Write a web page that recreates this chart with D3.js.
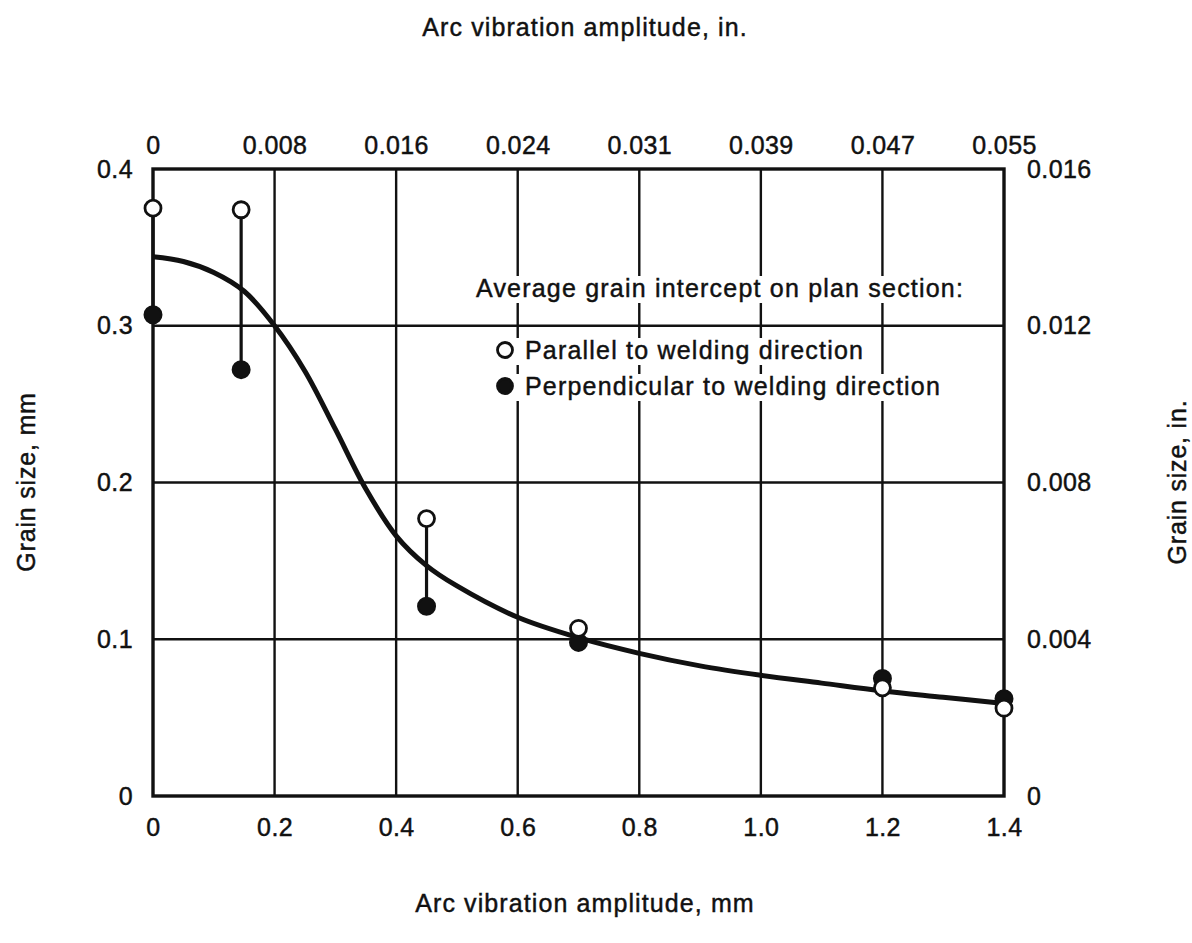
<!DOCTYPE html>
<html>
<head>
<meta charset="utf-8">
<script src="https://cdn.jsdelivr.net/npm/d3@7"></script>
<style>
  html, body { margin: 0; padding: 0; background: #fff; }
  svg text { font-family: "Liberation Sans", Arial, Helvetica, sans-serif; fill: #111; stroke: #111; stroke-width: 0.45px; }
</style>
</head>
<body>
<svg id="chart" width="1192" height="943"></svg>
<script>
// ---------- data ----------
const xTicksMm = [0, 0.2, 0.4, 0.6, 0.8, 1.0, 1.2, 1.4];
const xTickLabelsMm = ["0", "0.2", "0.4", "0.6", "0.8", "1.0", "1.2", "1.4"];
const xTickLabelsIn = ["0", "0.008", "0.016", "0.024", "0.031", "0.039", "0.047", "0.055"];
const yTicksMm = [0, 0.1, 0.2, 0.3, 0.4];
const yTickLabelsMm = ["0", "0.1", "0.2", "0.3", "0.4"];
const yTickLabelsIn = ["0", "0.004", "0.008", "0.012", "0.016"];

const amplitudeMm = [0, 0.145, 0.45, 0.7, 1.2, 1.4];
const parallelGrain = [0.375, 0.374, 0.177, 0.107, 0.069, 0.056];
const perpendicularGrain = [0.307, 0.272, 0.121, 0.098, 0.075, 0.062];

const curveX = [0, 0.05, 0.1, 0.15, 0.2, 0.25, 0.3, 0.35, 0.4, 0.45, 0.5, 0.6, 0.7, 0.8, 0.9, 1.0, 1.1, 1.2, 1.3, 1.4];
const curveY = [0.344, 0.341, 0.334, 0.322, 0.300, 0.271, 0.234, 0.196, 0.166, 0.147, 0.134, 0.114, 0.101, 0.091, 0.083, 0.077, 0.072, 0.067, 0.063, 0.059];

const legendTitle = "Average grain intercept on plan section:";
const legendLabels = ["Parallel to welding direction", "Perpendicular to welding direction"];

// ---------- layout ----------
const L = 153, R = 1004, T = 169, B = 796;
const svg = d3.select("#chart");

const x = d3.scaleLinear().domain([0, 1.4]).range([L, R]);
const y = d3.scaleLinear().domain([0, 0.4]).range([B, T]);

// grid
const grid = svg.append("g");
grid.selectAll("line.v").data(xTicksMm.slice(1, -1)).join("line")
  .attr("x1", d => x(d)).attr("x2", d => x(d)).attr("y1", T).attr("y2", B)
  .attr("stroke", "#111").attr("stroke-width", 2.4);
grid.selectAll("line.h").data(yTicksMm.slice(1, -1)).join("line")
  .attr("y1", d => y(d)).attr("y2", d => y(d)).attr("x1", L).attr("x2", R)
  .attr("stroke", "#111").attr("stroke-width", 2.4);

// axes (labels only; frame drawn separately)
function styleAxis(g, fs, ls) {
  g.select(".domain").remove();
  g.selectAll(".tick line").remove();
  g.selectAll("text").style("font-size", fs + "px").style("letter-spacing", ls + "px").attr("fill", "#111");
}
svg.append("g").attr("transform", `translate(0,${B})`)
  .call(d3.axisBottom(x).tickValues(xTicksMm).tickFormat((d, i) => xTickLabelsMm[i]).tickPadding(16))
  .call(g => styleAxis(g, 25, 0.4));
svg.append("g").attr("transform", `translate(0,${T})`)
  .call(d3.axisTop(x).tickValues(xTicksMm).tickFormat((d, i) => xTickLabelsIn[i]).tickPadding(9))
  .call(g => styleAxis(g, 25, 0.4));
svg.append("g").attr("transform", `translate(${L},0)`)
  .call(d3.axisLeft(y).tickValues(yTicksMm).tickFormat((d, i) => yTickLabelsMm[i]).tickPadding(14))
  .call(g => styleAxis(g, 25, 0.4));
svg.append("g").attr("transform", `translate(${R},0)`)
  .call(d3.axisRight(y).tickValues(yTicksMm).tickFormat((d, i) => yTickLabelsIn[i]).tickPadding(17))
  .call(g => styleAxis(g, 25, 0.4));

// legend (white backgrounds interrupt the grid)
const leg = svg.append("g");
function legendRow(tx, ty, text, marker) {
  const g = leg.append("g");
  const bg = g.append("rect").attr("fill", "#fff").style("stroke", "none");
  g.append("text").attr("x", tx).attr("y", ty)
    .style("font-size", "25px").style("letter-spacing", "1.2px").text(text);
  if (marker) {
    g.append("circle").attr("cx", tx - 20).attr("cy", ty - 9).attr("r", 7.5)
      .attr("fill", marker === "open" ? "#fff" : "#111")
      .attr("stroke", "#111").attr("stroke-width", 2.8);
  }
  const bb = g.node().getBBox();
  bg.attr("x", bb.x - 4).attr("y", ty - 21).attr("width", bb.width + 8).attr("height", 27);
}
legendRow(476, 297, legendTitle, null);
legendRow(525, 359, legendLabels[0], "open");
legendRow(525, 395, legendLabels[1], "filled");

// frame
svg.append("rect").attr("x", L).attr("y", T).attr("width", R - L).attr("height", B - T)
  .attr("fill", "none").attr("stroke", "#111").attr("stroke-width", 3.4);

// error bars connecting the two measurements
const pairs = amplitudeMm.map((a, i) => ({ a, p: parallelGrain[i], q: perpendicularGrain[i] }));
svg.append("g").selectAll("line").data(pairs).join("line")
  .attr("x1", d => x(d.a)).attr("x2", d => x(d.a))
  .attr("y1", d => y(d.p)).attr("y2", d => y(d.q))
  .attr("stroke", "#111").attr("stroke-width", 3.2);

// fitted curve
const curveData = curveX.map((v, i) => [v, curveY[i]]);
svg.append("path").datum(curveData)
  .attr("d", d3.line().x(d => x(d[0])).y(d => y(d[1])).curve(d3.curveCatmullRom.alpha(0.5)))
  .attr("fill", "none").attr("stroke", "#111").attr("stroke-width", 5);

// markers
svg.append("g").selectAll("circle").data(pairs).join("circle")
  .attr("cx", d => x(d.a)).attr("cy", d => y(d.q)).attr("r", 8.5)
  .attr("fill", "#111").attr("stroke", "#111").attr("stroke-width", 2);
svg.append("g").selectAll("circle").data(pairs).join("circle")
  .attr("cx", d => x(d.a)).attr("cy", d => y(d.p)).attr("r", 8)
  .attr("fill", "#fff").attr("stroke", "#111").attr("stroke-width", 2.8);

// axis titles
svg.append("text").attr("x", 585).attr("y", 36).attr("text-anchor", "middle")
  .style("font-size", "25px").style("letter-spacing", "1.1px").text("Arc vibration amplitude, in.");
svg.append("text").attr("x", 585).attr("y", 912).attr("text-anchor", "middle")
  .style("font-size", "25px").style("letter-spacing", "1.1px").text("Arc vibration amplitude, mm");
svg.append("text").attr("transform", "translate(35,482) rotate(-90)").attr("text-anchor", "middle")
  .style("font-size", "25px").style("letter-spacing", "0.8px").text("Grain size, mm");
svg.append("text").attr("transform", "translate(1186,482) rotate(-90)").attr("text-anchor", "middle")
  .style("font-size", "25px").style("letter-spacing", "0.8px").text("Grain size, in.");
</script>
</body>
</html>
